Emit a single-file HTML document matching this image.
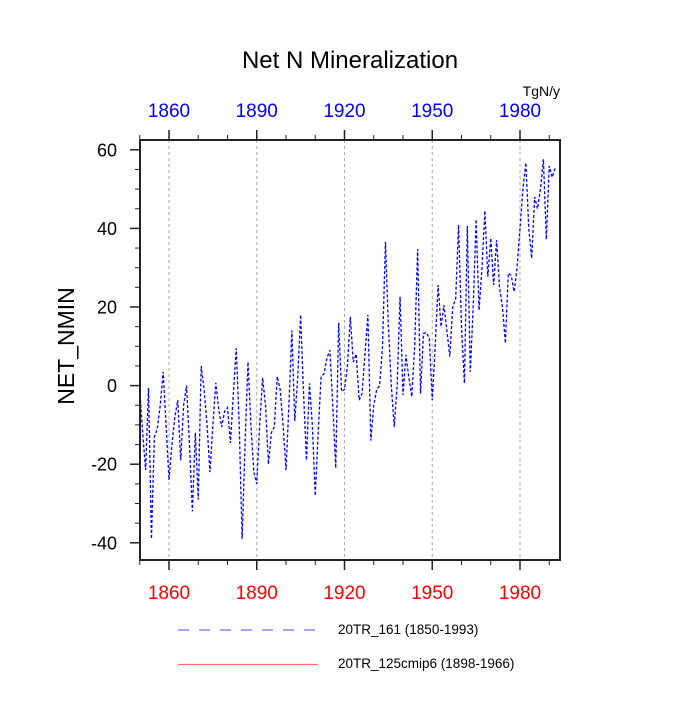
<!DOCTYPE html>
<html><head><meta charset="utf-8"><style>
body{margin:0;background:#fff;}
svg text{font-family:"Liberation Sans",sans-serif;}
</style></head><body>
<svg id="chart" width="700" height="700" xmlns="http://www.w3.org/2000/svg">
<rect width="700" height="700" fill="#fff"/>
<text x="350" y="68" font-size="24" text-anchor="middle">Net N Mineralization</text>
<text x="560" y="96" font-size="14" text-anchor="end">TgN/y</text>
<text transform="translate(74,346) rotate(-90)" font-size="23" text-anchor="middle">NET_NMIN</text>
<g id="grid"></g><g id="series"></g><g id="axes"></g>
<rect x="140" y="140" width="420" height="420" fill="none" stroke="#222" stroke-width="2"/>
<line x1="178" y1="630" x2="318" y2="630" stroke="#7070ff" stroke-width="1.2" stroke-dasharray="11,10"/>
<text x="338" y="634" font-size="13.5">20TR_161 (1850-1993)</text>
<line x1="178" y1="664.5" x2="318" y2="664.5" stroke="#ff7070" stroke-width="1.2"/>
<text x="338" y="668" font-size="13.5">20TR_125cmip6 (1898-1966)</text>
</svg>
<script>
const startYear = 1850;
const values = [-1,-12,-21.5,-0.6,-39,-13,-11,-5,3.5,-10,-24,-15,-8,-3.7,-19,-5,0,-15,-32,-12,-29,5,-1,-10,-22,-10,0.7,-6,-10.5,-6.6,-5.6,-14.6,-2,9.5,-10,-39,-15,6,-10,-22,-25,-10,2,-5,-20,-12,-10.5,2.3,-1,-10,-21.5,
-5,14,-9,2,18,-2,-19,0.6,-10,-28,-12,2.3,3,7,9,-5,-21,16,-1.5,-1,5,17.5,6,8,-3.7,-2,8,18,-14,-5,-1,0,10,36.6,15,0,-10.5,0,22.6,-2.4,7.8,2,-2.8,10,34.7,-2,13.3,13.5,12,-3.7,10,25.6,15,20.5,14,7.4,20,22,40.9,15,0.6,40.6,3.5,20,42.3,19.2,30,44.5,27.7,37.5,25.6,37,25,20,10.8,28.6,28,23.9,30,40,50,56.7,40,32.4,48,45,50,57.6,37.2,55.9,53,55.4];
const xTicks = [1860,1890,1920,1950,1980];
const yTicks = [-40,-20,0,20,40,60];
const NS="http://www.w3.org/2000/svg";
function xs(yr){return 139.75+(yr-1850)*2.925;}
function ys(v){return 385.6-v*3.93;}
function mk(tag,attrs,parent){const e=document.createElementNS(NS,tag);for(const k in attrs)e.setAttribute(k,attrs[k]);parent.appendChild(e);return e;}
const grid=document.getElementById('grid'),axes=document.getElementById('axes'),ser=document.getElementById('series');
xTicks.forEach(t=>{
  const g=mk('line',{x1:xs(t),x2:xs(t),y1:140,y2:560,stroke:'#aaa','stroke-width':1,'stroke-dasharray':'3,3'},grid);
  
  
  const b=mk('text',{x:xs(t),y:599,'font-size':19,'text-anchor':'middle',fill:'#ff0000'},axes);b.textContent=t;
  
  
  const tp=mk('text',{x:xs(t),y:117,'font-size':19,'text-anchor':'middle',fill:'#0000ff'},axes);tp.textContent=t;
  
  
});
for(let yr=1850;yr<=1990;yr+=10){
  const major=xTicks.includes(yr);const L=major?10:5;
  const a=mk('line',{x1:xs(yr),x2:xs(yr),y1:560,y2:560+L,stroke:'#222','stroke-width':major?1.5:1},axes);
  
  
  const b=mk('line',{x1:xs(yr),x2:xs(yr),y1:140,y2:140-L,stroke:'#222','stroke-width':major?1.5:1},axes);
  
  
}
for(let v=-40;v<=60;v+=5){
  const major=yTicks.includes(v);const L=major?10:5;
  const a=mk('line',{x1:140-L,x2:140,y1:ys(v),y2:ys(v),stroke:'#222','stroke-width':major?1.5:1},axes);
  
  
}
yTicks.forEach(v=>{
  const t=mk('text',{x:117,y:ys(v)+6.5,'font-size':18,'text-anchor':'end'},axes);t.textContent=v;
  
  
});
const pts=values.map((v,i)=>xs(startYear+i).toFixed(2)+','+ys(v).toFixed(2)).join(' ');
const line=mk('polyline',{points:pts,fill:'none',stroke:'#0000ff','stroke-width':1.3,'stroke-dasharray':'3,2'},ser);


</script>
</body></html>
